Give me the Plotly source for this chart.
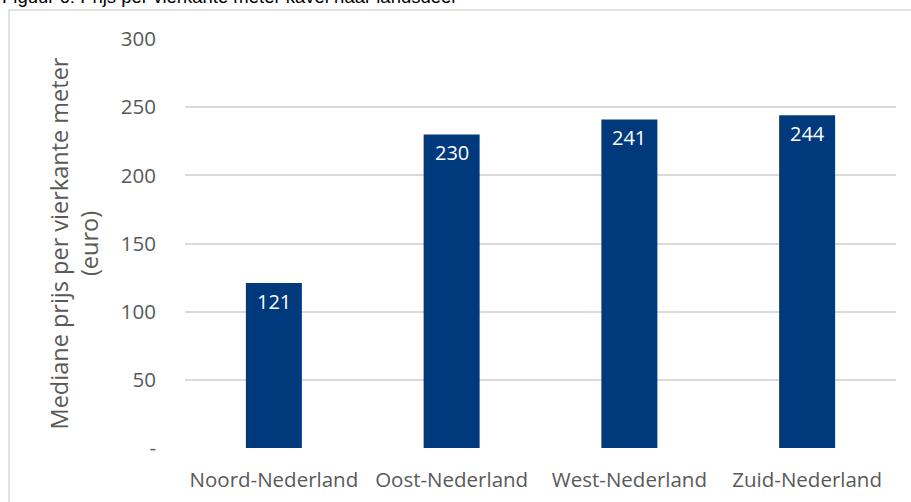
import plotly.graph_objects as go

categories = ["Noord-Nederland", "Oost-Nederland", "West-Nederland", "Zuid-Nederland"]
values = [121, 230, 241, 244]
tick_vals = [0, 50, 100, 150, 200, 250, 300]
tick_text = ["-", "50", "100", "150", "200", "250", "300"]

W, H = 911, 502
L, R, T, B = 185, 15, 39, 54
pw, ph = W - L - R, H - T - B
FONT = "Open Sans"

def px_x(x):
    return (x - L) / pw

def px_y(y):
    return 1 - (y - T) / ph

fig = go.Figure()
fig.add_trace(go.Bar(
    x=categories, y=values,
    marker=dict(color="#003A7D", line=dict(width=0)),
    cliponaxis=False,
))

for c, v in zip(categories, values):
    fig.add_annotation(x=c, y=v, text=str(v), showarrow=False,
                       yanchor="middle", yshift=-18,
                       font=dict(color="white", size=20, family=FONT))

fig.update_layout(
    width=W, height=H,
    margin=dict(l=L, r=R, t=T, b=B, autoexpand=False),
    paper_bgcolor="white", plot_bgcolor="white",
    bargap=0.685,
    showlegend=False,
    font=dict(family=FONT, color="#595959"),
    xaxis=dict(
        showgrid=False, showline=False, zeroline=False, ticks="",
        tickfont=dict(size=20.5, color="#595959", family=FONT),
        ticklabelstandoff=17, automargin=False,
    ),
    yaxis=dict(
        range=[0, 300], tickvals=tick_vals, ticktext=tick_text,
        showgrid=True, gridcolor="#D9D9D9", gridwidth=1.5,
        zeroline=False, showline=False, ticks="",
        tickfont=dict(size=20.5, color="#595959", family=FONT),
        ticklabelstandoff=28, automargin=False,
        title=dict(text="Mediane prijs per vierkante meter<br>(euro)",
                   font=dict(size=23.5, color="#595959", family=FONT), standoff=15),
    ),
)

fig.add_shape(type="rect", xref="paper", yref="paper",
              x0=px_x(9), x1=px_x(930), y0=px_y(520), y1=px_y(10),
              line=dict(color="#D9D9D9", width=1.5), fillcolor="rgba(0,0,0,0)", layer="below")

fig.add_annotation(text="Figuur 6: Prijs per vierkante meter kavel naar landsdeel",
                   xref="paper", yref="paper", x=px_x(0), y=px_y(-4),
                   xanchor="left", yanchor="middle", showarrow=False,
                   font=dict(family="Arial", size=18.5, color="black"))

fig.write_html("out.html")
